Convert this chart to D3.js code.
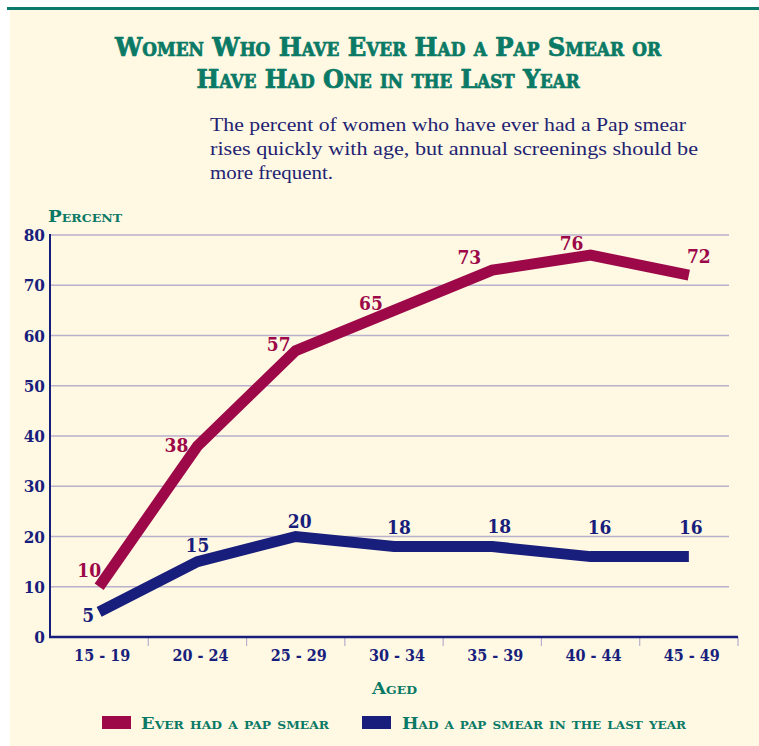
<!DOCTYPE html>
<html><head><meta charset="utf-8">
<script src="https://cdn.jsdelivr.net/npm/d3@7"></script>
<style>
html,body{margin:0;padding:0;background:#fff;}
svg{display:block;}
</style></head>
<body>
<svg id="c" width="759" height="746"></svg>
<script>
const categories = ["15 - 19","20 - 24","25 - 29","30 - 34","35 - 39","40 - 44","45 - 49"];
const everValues = [10,38,57,65,73,76,72];
const lastYearValues = [5,15,20,18,18,16,16];
const yTicks = [0,10,20,30,40,50,60,70,80];
const seriesNames = ["Ever had a pap smear","Had a pap smear in the last year"];
const titleLines = ["Women Who Have Ever Had a Pap Smear or","Have Had One in the Last Year"];
const subtitleLines = ["The percent of women who have ever had a Pap smear","rises quickly with age, but annual screenings should be","more frequent."];
// label offsets (styling): [dx, baseline dy] from the point
const everLabelOff = [[-10,-10],[-21,6],[-17,0],[-23,0],[-23,-6],[-19,-5],[10,-12]];
const lastLabelOff = [[-11,10],[0,-10],[4,-9],[5,-13],[7,-14],[9,-23],[2,-23]];

const RED="#9C0848", NAVY="#181E7C", GREEN="#0A7A66", GRID="#B8B0CC", BG="#FFF8E3";
const svg=d3.select("#c");
svg.append("rect").attr("x",10).attr("y",9).attr("width",749).attr("height",737).attr("fill",BG);
svg.append("rect").attr("x",7).attr("y",7).attr("width",752).attr("height",3).attr("fill","#0B7A6A");

const serif="'Liberation Serif','DejaVu Serif',serif";
const heavy="'DejaVu Serif Condensed','DejaVu Serif',serif";
const T=svg.append("g");
const tSpecs=[{x:388,y:56,w:546},{x:388,y:88,w:383}];
titleLines.forEach((t,i)=>{
  T.append("text").attr("x",tSpecs[i].x).attr("y",tSpecs[i].y).attr("text-anchor","middle")
   .attr("font-family",heavy).style("font-stretch","condensed").attr("font-weight","bold").attr("font-size",26)
   .style("font-variant","small-caps").attr("fill",GREEN).attr("stroke",GREEN).attr("stroke-width",0.7)
   .attr("textLength",tSpecs[i].w).attr("lengthAdjust","spacingAndGlyphs").text(t);
});
const subW=[476,488,123];
subtitleLines.forEach((t,i)=>{
  svg.append("text").attr("x",210).attr("y",131+i*24).attr("font-family",serif)
   .attr("font-size",19.5).attr("fill","#1E2472").attr("textLength",subW[i]).attr("lengthAdjust","spacingAndGlyphs").text(t);
});

const x=d3.scaleBand().domain(categories).range([50,738]);
const y=d3.scaleLinear().domain([0,80]).range([637,235]);
const cx=d=>x(d)+x.bandwidth()/2;

// gridlines
svg.append("g").selectAll("line").data(yTicks.filter(v=>v>0)).join("line")
 .attr("x1",50).attr("x2",729).attr("y1",d=>y(d)).attr("y2",d=>y(d))
 .attr("stroke",GRID).attr("stroke-width",1.5);

// x ticks
svg.append("g").selectAll("line").data(d3.range(1,8)).join("line")
 .attr("x1",i=>50+i*x.bandwidth()).attr("x2",i=>50+i*x.bandwidth())
 .attr("y1",637).attr("y2",646).attr("stroke",GRID).attr("stroke-width",1.2);

// axes
svg.append("line").attr("x1",50).attr("x2",50).attr("y1",234).attr("y2",638).attr("stroke",NAVY).attr("stroke-width",2);
svg.append("line").attr("x1",49).attr("x2",738).attr("y1",637).attr("y2",637).attr("stroke",NAVY).attr("stroke-width",2.5);

// y labels
svg.append("g").selectAll("text").data(yTicks).join("text")
 .attr("x",45).attr("y",d=>y(d)+6).attr("text-anchor","end")
 .attr("font-family",heavy).style("font-stretch","condensed").attr("font-weight","bold").attr("font-size",17).attr("fill",NAVY).text(d=>d);
// x labels
svg.append("g").selectAll("text").data(categories).join("text")
 .attr("x",d=>cx(d)+3).attr("y",661).attr("text-anchor","middle")
 .attr("font-family",heavy).style("font-stretch","condensed").attr("font-weight","bold").attr("font-size",16).attr("fill",NAVY).text(d=>d);

svg.append("text").attr("x",48).attr("y",222).attr("font-family",heavy).style("font-stretch","condensed").attr("font-weight","bold")
 .attr("font-size",16).style("font-variant","small-caps").attr("fill",GREEN).attr("textLength",74).attr("lengthAdjust","spacingAndGlyphs").text("Percent");
svg.append("text").attr("x",372).attr("y",694).attr("font-family",heavy).style("font-stretch","condensed").attr("font-weight","bold")
 .attr("font-size",16).style("font-variant","small-caps").attr("fill",GREEN).attr("textLength",45).attr("lengthAdjust","spacingAndGlyphs").text("Aged");

const line=d3.line().x((d,i)=>cx(categories[i])).y(d=>y(d));
svg.append("path").attr("d",line(lastYearValues)).attr("fill","none").attr("stroke",NAVY).attr("stroke-width",11).attr("stroke-linejoin","miter");
svg.append("path").attr("d",line(everValues)).attr("fill","none").attr("stroke",RED).attr("stroke-width",11).attr("stroke-linejoin","miter");

svg.append("g").selectAll("text").data(everValues).join("text")
 .attr("x",(d,i)=>cx(categories[i])+everLabelOff[i][0]).attr("y",(d,i)=>y(d)+everLabelOff[i][1])
 .attr("text-anchor","middle").attr("font-family",heavy).style("font-stretch","condensed").attr("font-weight","bold").attr("font-size",19).attr("fill",RED).text(d=>d);
svg.append("g").selectAll("text").data(lastYearValues).join("text")
 .attr("x",(d,i)=>cx(categories[i])+lastLabelOff[i][0]).attr("y",(d,i)=>y(d)+lastLabelOff[i][1])
 .attr("text-anchor","middle").attr("font-family",heavy).style("font-stretch","condensed").attr("font-weight","bold").attr("font-size",19).attr("fill",NAVY).text(d=>d);

// legend
const legX=[102,362], legTX=[141,402], legW=[188,284];
seriesNames.forEach((n,i)=>{
  svg.append("rect").attr("x",legX[i]).attr("y",716).attr("width",29).attr("height",13).attr("fill",i?NAVY:RED);
  svg.append("text").attr("x",legTX[i]).attr("y",729).attr("font-family",heavy).style("font-stretch","condensed").attr("font-weight","bold")
   .attr("font-size",16).style("font-variant","small-caps").attr("fill",GREEN)
   .attr("textLength",legW[i]).attr("lengthAdjust","spacingAndGlyphs").text(n);
});
</script>
</body></html>
